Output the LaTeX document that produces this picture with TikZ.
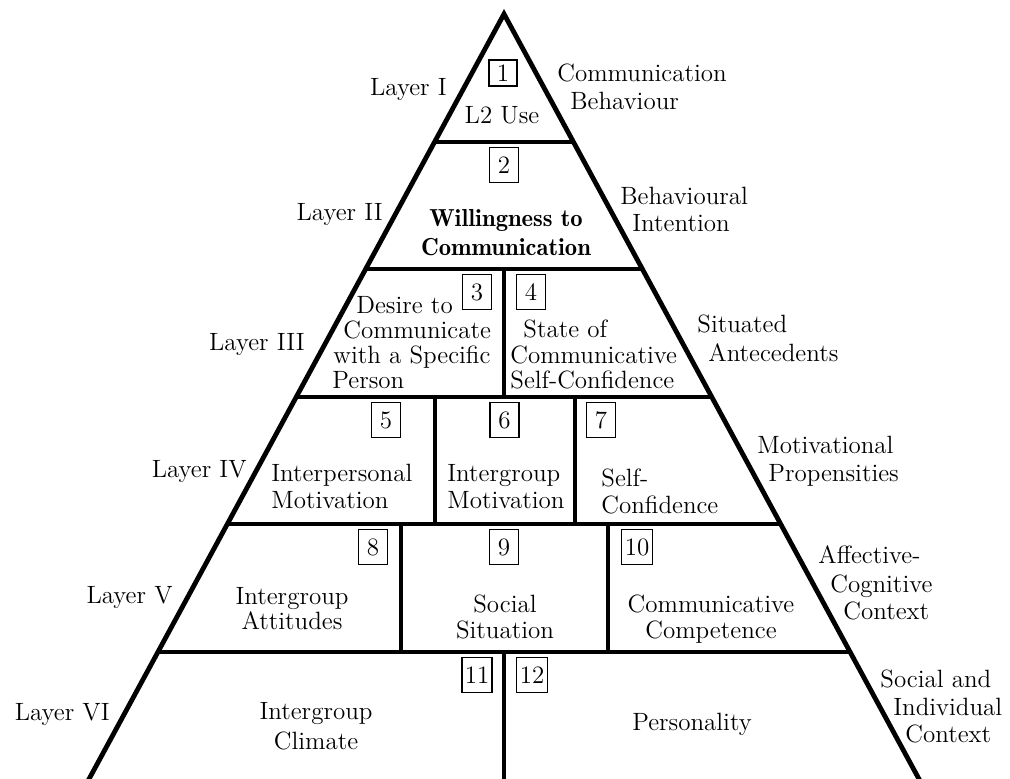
\documentclass[tikz,border=0pt]{standalone}
\usepackage{fontspec}
\newfontfamily\demifont{lmromandemi10-regular.otf}
\begin{document}
\begin{tikzpicture}[x=0.5pt,y=-0.5pt,
  font=\fontsize{12.5}{13}\selectfont,
  edge/.style={line width=2.4pt},
  numbox/.style={draw,line width=0.8pt,inner sep=1pt,minimum width=14.5pt,minimum height=17.5pt},
  txt/.style={inner sep=0pt,anchor=base},
  txtl/.style={inner sep=0pt,anchor=base west},
  layer/.style={inner sep=0pt,anchor=base east},
  wbold/.style={font=\demifont\fontsize{12.3}{13}\selectfont},
]
\useasboundingbox (0,0) rectangle (1010,779);
\clip (0,0) rectangle (1010,779);

% outline of the pyramid
\coordinate (apex) at (504,14);
\coordinate (bl) at (84.7,787);
\coordinate (br) at (923.3,787);
\draw[edge,line join=miter] (bl) -- (apex) -- (br);

% layer boundaries
\coordinate (l1) at (434.6,142); \coordinate (r1) at (573.4,142);
\coordinate (l2) at (365.7,269); \coordinate (r2) at (642.3,269);
\coordinate (l3) at (296.3,397); \coordinate (r3) at (711.7,397);
\coordinate (l4) at (227.4,524); \coordinate (r4) at (780.6,524);
\coordinate (l5) at (158,652);   \coordinate (r5) at (850,652);
\draw[edge] (l1) -- (r1);
\draw[edge] (l2) -- (r2);
\draw[edge] (l3) -- (r3);
\draw[edge] (l4) -- (r4);
\draw[edge] (l5) -- (r5);

% cell dividers
\coordinate (d3t) at (504,269); \coordinate (d3b) at (504,397);
\coordinate (d4at) at (435,397); \coordinate (d4ab) at (435,524);
\coordinate (d4bt) at (575,397); \coordinate (d4bb) at (575,524);
\coordinate (d5at) at (401,524); \coordinate (d5ab) at (401,652);
\coordinate (d5bt) at (608,524); \coordinate (d5bb) at (608,652);
\coordinate (d6t) at (504,652); \coordinate (d6b) at (504,787);
\draw[edge] (d3t) -- (d3b);
\draw[edge] (d4at) -- (d4ab);
\draw[edge] (d4bt) -- (d4bb);
\draw[edge] (d5at) -- (d5ab);
\draw[edge] (d5bt) -- (d5bb);
\draw[edge] (d6t) -- (d6b);

% numbered boxes
\node[numbox,minimum height=13pt,minimum width=14pt] (b1) at (503,73) {1};
\node[numbox] (b2) at (504,165) {2};
\node[numbox] (b3) at (477,292) {3};
\node[numbox] (b4) at (531,292) {4};
\node[numbox] (b5) at (386,420) {5};
\node[numbox] (b6) at (504.5,420) {6};
\node[numbox] (b7) at (601,420) {7};
\node[numbox] (b8) at (373,547) {8};
\node[numbox] (b9) at (504,547) {9};
\node[numbox,minimum width=15.5pt] (b10) at (637,547) {10};
\node[numbox,minimum width=15pt] (b11) at (477,675) {11};
\node[numbox,minimum width=15.5pt] (b12) at (532,675) {12};

% cell contents
\node[txt] (c1) at (502,124) {L2 Use};
\node[txt,wbold] (c2a) at (506,227) {Willingness to};
\node[txt,wbold] (c2b) at (506,256) {Communication};

\node[txtl] (c3a) at (356,314) {Desire to};
\node[txtl] (c3b) at (343,339) {Communicate};
\node[txtl] (c3c) at (333,364) {with a Specific};
\node[txtl] (c3d) at (332,389) {Person};

\node[txtl] (c4a) at (523,338) {State of};
\node[txtl] (c4b) at (510,364) {Communicative};
\node[txtl] (c4c) at (510,389) {Self-Confidence};

\node[txtl] (c5a) at (271,482) {Interpersonal};
\node[txtl] (c5b) at (271,509) {Motivation};
\node[txtl] (c6a) at (447,482) {Intergroup};
\node[txtl] (c6b) at (447,509) {Motivation};
\node[txtl] (c7a) at (601,487) {Self-};
\node[txtl] (c7b) at (601,514) {Confidence};

\node[txt] (c8a) at (292,604) {Intergroup};
\node[txt] (c8b) at (292,629) {Attitudes};
\node[txt] (c9a) at (505,612) {Social};
\node[txt] (c9b) at (505,638) {Situation};
\node[txt] (c10a) at (711,612) {Communicative};
\node[txt] (c10b) at (711,638) {Competence};

\node[txt] (c11a) at (316,719) {Intergroup};
\node[txt] (c11b) at (316,749) {Climate};
\node[txt] (c12) at (692,730) {Personality};

% layer names on the left
\node[layer] (lay1) at (447,96) {Layer I};
\node[layer] (lay2) at (383,221) {Layer II};
\node[layer] (lay3) at (305,351) {Layer III};
\node[layer] (lay4) at (247,478) {Layer IV};
\node[layer] (lay5) at (173,603) {Layer V};
\node[layer] (lay6) at (110,720) {Layer VI};

% layer descriptions on the right
\node[txtl] (ra1) at (557,82) {Communication};
\node[txtl] (ra2) at (570,110) {Behaviour};
\node[txtl] (rb1) at (620,205) {Behavioural};
\node[txtl] (rb2) at (632,232) {Intention};
\node[txtl] (rc1) at (697,333) {Situated};
\node[txtl] (rc2) at (708,362) {Antecedents};
\node[txtl] (rd1) at (757,454) {Motivational};
\node[txtl] (rd2) at (768,482) {Propensities};
\node[txtl] (re1) at (818,563) {Affective-};
\node[txtl] (re2) at (830,592) {Cognitive};
\node[txtl] (re3) at (843,619) {Context};
\node[txtl] (rf1) at (880,687) {Social and};
\node[txtl] (rf2) at (893,715) {Individual};
\node[txtl] (rf3) at (905,742) {Context};
\end{tikzpicture}
\end{document}
